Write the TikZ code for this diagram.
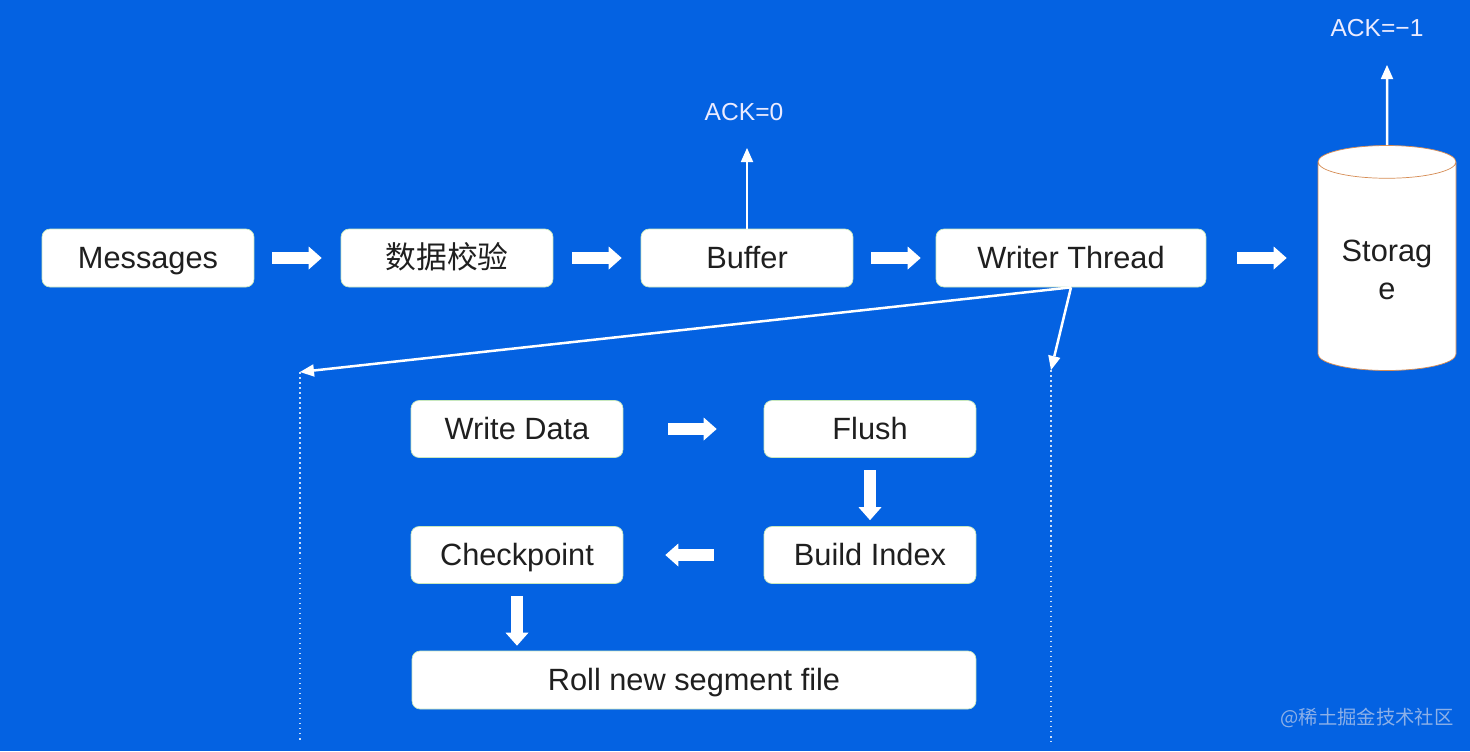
\documentclass[tikz,border=0pt]{standalone}
\usepackage{fontspec}
\setmainfont{Liberation Sans}
\newfontfamily\cjk{Noto Sans CJK SC}
\usetikzlibrary{arrows.meta,shapes.geometric}

\definecolor{slideblue}{RGB}{4,98,226}
\definecolor{boxedge}{RGB}{200,232,190}
\definecolor{drumedge}{RGB}{214,140,84}
\definecolor{marktext}{RGB}{140,176,232}

\tikzset{
  fat/.style={draw=white,line width=0.24cm,
    -{Triangle[length=0.26cm,width=0.46cm,line width=0pt]}},
  thinarrow/.style={draw=white,line width=0.05cm,
    -{Triangle[length=0.28cm,width=0.25cm,line width=0pt]}},
  dotline/.style={draw=white,line width=0.03cm,dotted,opacity=0.8},
}

\begin{document}
\begin{tikzpicture}[x=0.02cm,y=-0.02cm]

      \fill[slideblue] (0,0) rectangle (1470,751);
      \useasboundingbox (0,0) rectangle (1470,751);

      \begin{scope}[every node/.style={draw=boxedge,fill=white,rounded corners=0.16cm,
          minimum width=4.24cm,minimum height=1.16cm,text=black!88,
          text height=12.5pt,text depth=0.5pt,
          font=\fontsize{17.5}{20}\selectfont}]
        \node (msg)  at (148,258)  {Messages};
        \node (chk)  at (447,258)  {\cjk 数据校验};
        \node (buf)  at (747,258)  {Buffer};
        \node[minimum width=5.4cm] (wt) at (1071,258) {Writer Thread};
        \node[minimum height=1.14cm] (wd)   at (517,429)  {Write Data};
        \node[minimum height=1.14cm] (fl)   at (870,429)  {Flush};
        \node[minimum height=1.14cm] (cp)   at (517,555)  {Checkpoint};
        \node[minimum height=1.14cm] (bi)   at (870,555)  {Build Index};
        \node[minimum width=11.28cm] (roll) at (694,680)  {Roll new segment file};
      \end{scope}

      \node[cylinder,shape border rotate=90,aspect=0.32,draw=drumedge,fill=white,
        minimum width=2.76cm,minimum height=4.5cm,align=center,text=black!88,
        font=\fontsize{17.5}{21.5}\selectfont,anchor=shape center]
        (stor) at (1387,258) {Storag\\e};

      \begin{scope}[every node/.style={inner sep=0pt,text=white!92!blue,
          font=\fontsize{14}{16}\selectfont}]
        \node (ack0) at (744,112)  {ACK=0};
        \node (ack1) at (1377,28)  {ACK=−1};
      \end{scope}
      \node[inner sep=0pt,text=marktext,font=\cjk\fontsize{11}{13}\selectfont]
        (mark) at (1367,718) {@稀土掘金技术社区};

      \coordinate (ack0tip) at (747,148);
      \coordinate (ack1tip) at (1387,65);
      \coordinate (lsplit)  at (300,372);
      \coordinate (rsplit)  at (1051,370);
      \coordinate (lend)    at (300,742);
      \coordinate (rend)    at (1051,742);

      % main flow
      \draw[fat,shorten <=0.36cm,shorten >=0.38cm] (msg) -- (chk);
      \draw[fat,shorten <=0.38cm,shorten >=0.38cm] (chk) -- (buf);
      \draw[fat,shorten <=0.36cm,shorten >=0.3cm]  (buf) -- (wt);
      \draw[fat,shorten <=0.62cm,shorten >=0.62cm] (wt.east) -- (stor.west |- wt.east);

      % acks
      \draw[thinarrow] (buf.north) -- (ack0tip);
      \draw[thinarrow] (stor.north) -- (ack1tip);

      % writer thread detail
      \draw[thinarrow] (wt.south) -- (lsplit);
      \draw[thinarrow] (wt.south) -- (rsplit);
      \draw[dotline] (lsplit) -- (lend);
      \draw[dotline] (rsplit) -- (rend);

      \draw[fat,shorten <=0.9cm,shorten >=0.94cm]  (wd) -- (fl);
      \draw[fat,shorten <=0.25cm,shorten >=0.12cm] (fl) -- (bi);
      \draw[fat,shorten <=1cm,shorten >=0.84cm]    (bi) -- (cp);
      \draw[fat,shorten <=0.25cm,shorten >=0.1cm]  (cp.south) -- (cp.south |- roll.north);

    \end{tikzpicture}
\end{document}
